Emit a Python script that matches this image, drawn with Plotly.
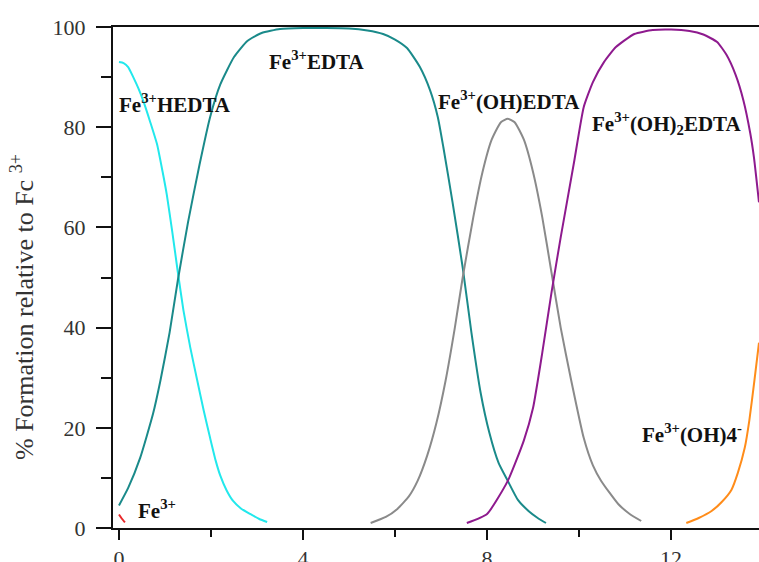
import plotly.graph_objects as go

# ---- data ----
fe3_x = [0.0, 0.06, 0.13]
fe3_y = [2.7, 1.9, 1.1]

hedta_x = [0.0, 0.1, 0.2, 0.31, 0.42, 0.53, 0.68, 0.83, 0.95, 1.04, 1.16, 1.28, 1.4,
           1.55, 1.7, 1.84, 1.98, 2.1, 2.2, 2.34, 2.48, 2.65, 2.85, 3.05, 3.22]
hedta_y = [93.0, 92.8, 92.0, 90.0, 87.8, 85.2, 81.0, 76.5, 71.0, 66.5, 59.0, 51.0, 43.5,
           36.0, 29.5, 23.5, 18.0, 13.5, 10.5, 7.5, 5.4, 3.9, 2.8, 1.8, 1.2]

edta_x = [0.0, 0.2, 0.46, 0.74, 0.9, 1.1, 1.28, 1.5, 1.75, 1.98, 2.2, 2.5, 2.79, 3.1, 3.5,
          4.0, 4.5, 5.0, 5.4, 5.74, 6.0, 6.26, 6.54, 6.76, 6.93, 7.05, 7.25, 7.47, 7.66,
          7.86, 8.05, 8.25, 8.45, 8.67, 8.9, 9.1, 9.28]
edta_y = [4.5, 8.0, 14.0, 22.8, 29.4, 39.0, 49.5, 61.0, 72.5, 82.0, 88.5, 94.0, 97.2, 98.8,
          99.6, 99.8, 99.8, 99.7, 99.3, 98.6, 97.5, 95.8, 92.0, 87.4, 82.0, 76.0, 65.0,
          52.0, 39.0, 27.0, 19.0, 13.0, 9.4, 5.6, 3.4, 2.0, 1.0]

ohedta_x = [5.47, 5.8, 6.05, 6.3, 6.49, 6.7, 6.9, 7.1, 7.3, 7.47, 7.7, 7.9, 8.1, 8.3, 8.45,
            8.6, 8.8, 9.0, 9.2, 9.4, 9.6, 9.83, 10.1, 10.3, 10.48, 10.85, 11.1, 11.35]
ohedta_y = [1.0, 2.2, 3.8, 6.3, 9.4, 14.5, 21.0, 29.5, 40.0, 50.0, 62.0, 71.0, 77.5, 81.0,
            81.7, 81.0, 77.5, 71.0, 62.0, 51.0, 40.0, 29.4, 18.0, 12.5, 9.4, 4.8, 2.8, 1.4]

oh2edta_x = [7.56, 8.0, 8.45, 8.8, 9.0, 9.2, 9.4, 9.6, 9.89, 10.1, 10.3, 10.54, 10.8, 11.2,
             11.6, 12.0, 12.4, 12.7, 13.0, 13.2, 13.4, 13.57, 13.72, 13.8, 13.91]
oh2edta_y = [1.0, 2.8, 9.4, 17.5, 24.0, 35.0, 47.0, 58.0, 73.0, 84.0, 89.0, 93.0, 96.0, 98.6,
             99.4, 99.5, 99.2, 98.5, 97.0, 94.5, 90.5, 85.4, 78.8, 74.0, 65.0]

oh4_x = [12.33, 12.6, 12.88, 13.1, 13.31, 13.45, 13.6, 13.7, 13.81, 13.91]
oh4_y = [1.0, 2.0, 3.4, 5.2, 7.6, 11.0, 16.0, 21.5, 29.4, 37.0]

series = [
    ("Fe3+", fe3_x, fe3_y, "#e8282a"),
    ("Fe3+HEDTA", hedta_x, hedta_y, "#22e8ec"),
    ("Fe3+EDTA", edta_x, edta_y, "#1a8a8a"),
    ("Fe3+(OH)EDTA", ohedta_x, ohedta_y, "#8a8a8a"),
    ("Fe3+(OH)2EDTA", oh2edta_x, oh2edta_y, "#8e1a8e"),
    ("Fe3+(OH)4-", oh4_x, oh4_y, "#ff8c1a"),
]

labels = [
    ("<b>Fe<sup>3+</sup>HEDTA</b>", 1.22, 84.8),
    ("<b>Fe<sup>3+</sup>EDTA</b>", 4.30, 93.4),
    ("<b>Fe<sup>3+</sup>(OH)EDTA</b>", 8.48, 85.4),
    ("<b>Fe<sup>3+</sup>(OH)<sub>2</sub>EDTA</b>", 11.91, 80.8),
    ("<b>Fe<sup>3+</sup>(OH)4<sup>-</sup></b>", 12.46, 18.8),
    ("<b>Fe<sup>3+</sup></b>", 0.83, 3.6),
]

x_ticks = [0, 4, 8, 12]
y_ticks = [0, 20, 40, 60, 80, 100]

fig = go.Figure()
for name, xs, ys, col in series:
    fig.add_trace(go.Scatter(x=xs, y=ys, mode="lines", name=name,
                             line=dict(color=col, width=2, shape="spline", smoothing=0.5),
                             showlegend=False))

for txt, lx, ly in labels:
    fig.add_annotation(x=lx, y=ly, text=txt, showarrow=False,
                       font=dict(family="Liberation Serif", size=21, color="#111"),
                       xanchor="center", yanchor="middle")

fig.add_annotation(xref="paper", yref="paper", x=(22 - 113) / 646, y=(527 - 306) / 501,
                   text="% Formation relative to Fc <sup>3+</sup>", textangle=-90,
                   showarrow=False, xanchor="center", yanchor="middle",
                   font=dict(family="Liberation Serif", size=26, color="#333"))

axis_font = dict(family="Liberation Serif", size=22, color="#333")

fig.update_layout(
    width=759, height=562,
    margin=dict(l=113, r=0, t=27, b=34, autoexpand=False),
    paper_bgcolor="white", plot_bgcolor="white",
    xaxis=dict(range=[-0.13, 13.91], tickvals=x_ticks, ticks="outside", ticklen=10,
               tickwidth=2, tickcolor="#111", showline=True, linecolor="#111", linewidth=2,
               mirror=True, showgrid=False, zeroline=False, tickfont=axis_font,
               automargin=False,
               minor=dict(dtick=2, tick0=0, ticks="outside", ticklen=7, tickwidth=2,
                          tickcolor="#111", showgrid=False)),
    yaxis=dict(range=[0, 100], tickvals=y_ticks, ticks="outside", ticklen=15,
               tickwidth=2, tickcolor="#111", showline=True, linecolor="#111", linewidth=2,
               showgrid=False, zeroline=False, tickfont=axis_font, automargin=False,
               ticklabelstandoff=6,
               minor=dict(dtick=10, tick0=0, ticks="outside", ticklen=10, tickwidth=2,
                          tickcolor="#111", showgrid=False)),
)

fig.write_html("out.html", config={"displayModeBar": False},
               post_script="document.body.style.margin='0';document.body.style.overflow='hidden';")
